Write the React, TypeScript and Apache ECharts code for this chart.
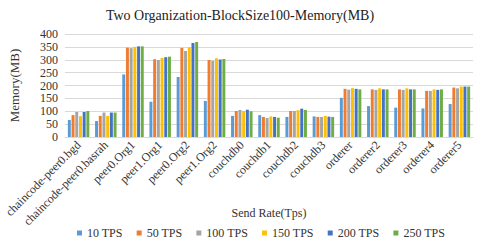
import React, { useEffect, useRef } from "react";
import * as echarts from "echarts";

const categories = [
  "chaincode-peer0.bgd",
  "chaincode-peer0.basrah",
  "peer0.Org1",
  "peer1.Org1",
  "peer0.Org2",
  "peer1.Org2",
  "couchdb0",
  "couchdb1",
  "couchdb2",
  "couchdb3",
  "orderer",
  "orderer2",
  "orderer3",
  "orderer4",
  "orderer5",
];

const seriesNames = ["10 TPS", "50 TPS", "100 TPS", "150 TPS", "200 TPS", "250 TPS"];

const tps10 = [66, 62, 243, 137, 233, 140, 82, 85, 78, 80, 152, 120, 114, 111, 128];
const tps50 = [85, 82, 347, 302, 346, 299, 101, 78, 101, 78, 187, 185, 185, 179, 192];
const tps100 = [97, 95, 345, 299, 334, 296, 105, 74, 101, 78, 184, 183, 183, 179, 189];
const tps150 = [81, 82, 350, 307, 348, 306, 101, 80, 104, 82, 190, 189, 189, 185, 196];
const tps200 = [97, 95, 352, 310, 365, 301, 106, 78, 110, 79, 187, 185, 185, 183, 196];
const tps250 = [101, 95, 352, 312, 369, 303, 100, 75, 105, 78, 185, 185, 185, 185, 196];

const colors = ["#5B9BD5", "#ED7D31", "#A5A5A5", "#FFC000", "#4472C4", "#70AD47"];

const yTicks = [0, 50, 100, 150, 200, 250, 300, 350, 400];

export default function App() {
  const ref = useRef<HTMLDivElement>(null);
  useEffect(() => {
    document.body.style.margin = "0";
    if (!ref.current) return;
    const chart = echarts.init(ref.current, null, { renderer: "svg" });
    const data = [tps10, tps50, tps100, tps150, tps200, tps250];
    const font = "Liberation Serif";
    chart.setOption({
      animation: false,
      textStyle: { fontFamily: font },
      title: {
        text: "Two Organization-BlockSize100-Memory(MB)",
        left: "center",
        top: 3,
        textStyle: { fontFamily: font, fontSize: 14, fontWeight: "normal", color: "#222" },
      },
      grid: { left: 62, right: 7, top: 34, bottom: 106, containLabel: false },
      legend: {
        top: 222,
        left: 72,
        itemWidth: 5,
        itemHeight: 5,
        itemGap: 14,
        icon: "rect",
        textStyle: { fontFamily: font, fontSize: 12, color: "#333" },
        data: seriesNames,
      },
      xAxis: {
        type: "category",
        data: categories,
        name: "Send Rate(Tps)",
        nameLocation: "middle",
        nameGap: 70,
        nameMoveOverlap: false,
        nameTextStyle: { fontFamily: font, fontSize: 12, color: "#333" },
        axisTick: { show: false },
        axisLine: { lineStyle: { color: "#D9D9D9" } },
        axisLabel: {
          rotate: 45,
          interval: 0,
          margin: 6,
          fontFamily: font,
          fontSize: 12,
          color: "#333",
        },
      },
      yAxis: {
        type: "value",
        min: yTicks[0],
        max: yTicks[yTicks.length - 1],
        interval: 50,
        name: "Memory(MB)",
        nameLocation: "middle",
        nameGap: 44,
        nameTextStyle: { fontFamily: font, fontSize: 13, color: "#333" },
        axisLine: { show: false },
        axisTick: { show: false },
        axisLabel: { fontFamily: font, fontSize: 12, color: "#333", margin: 7 },
        splitLine: { lineStyle: { color: "#D9D9D9", width: 1 } },
      },
      series: seriesNames.map((name, i) => ({
        name,
        type: "bar",
        data: data[i],
        barGap: "25%",
        barCategoryGap: "21%",
        itemStyle: { color: colors[i] },
      })),
    });
    return () => chart.dispose();
  }, []);
  return <div ref={ref} style={{ width: 480, height: 243 }} />;
}
